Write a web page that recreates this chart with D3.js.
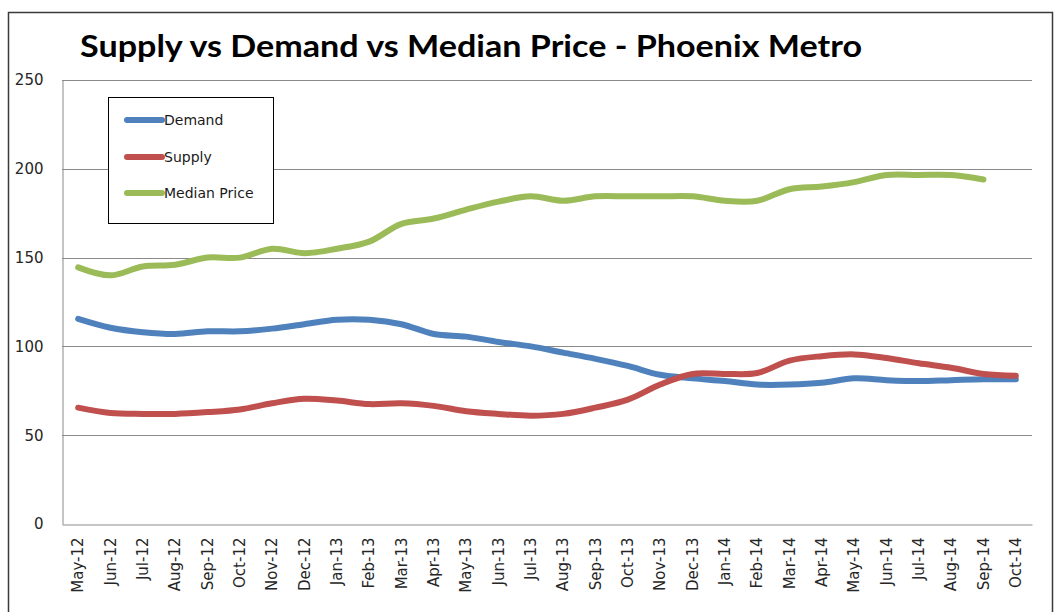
<!DOCTYPE html>
<html>
<head>
<meta charset="utf-8">
<script src="https://cdn.jsdelivr.net/npm/d3@7"></script>
<style>
  html, body { margin: 0; padding: 0; background: #fff; }
  svg { display: block; }
</style>
</head>
<body>
<svg id="chart" width="1063" height="612"></svg>
<script>
const months = ["May-12","Jun-12","Jul-12","Aug-12","Sep-12","Oct-12","Nov-12","Dec-12",
  "Jan-13","Feb-13","Mar-13","Apr-13","May-13","Jun-13","Jul-13","Aug-13","Sep-13","Oct-13","Nov-13","Dec-13",
  "Jan-14","Feb-14","Mar-14","Apr-14","May-14","Jun-14","Jul-14","Aug-14","Sep-14","Oct-14"];

const demand = [115.5,110.5,108,107,108.5,108.5,110,112.5,115,115,112.5,107,105.5,102.5,100,
  96.5,93,89,84,82,80.5,78.5,78.5,79.5,82,81,80.5,81,81.5,81.5];

const supply = [65.5,62.5,62,62,63,64.5,68,70.5,69.5,67.5,68,66.5,63.5,62,61,
  62,65.5,70,78.5,84.5,84.5,85,92,94.5,95.5,93.5,90.5,88,84.5,83.5];

const medianPrice = [144.5,140,145,146,150,150,155,152.5,155,159,169,172,177,181.5,184.5,
  182,184.5,184.5,184.5,184.5,182,182,188.5,190,192.5,196.5,196.5,196.5,194];

const yTicks = [0,50,100,150,200,250];

const seriesNames = ["Demand","Supply","Median Price"];
const seriesColors = ["#4F81BD","#C0504D","#9BBB59"];
const seriesData = [demand, supply, medianPrice];

const chartTitle = "Supply vs Demand vs Median Price - Phoenix Metro";

const svg = d3.select("#chart");
const plotL = 62, plotR = 1032, plotT = 80, plotB = 524;

// outer border
svg.append("rect")
  .attr("x", 8.5).attr("y", 12.5)
  .attr("width", 1044).attr("height", 620)
  .attr("fill", "#fff").attr("stroke", "#3a3a3a").attr("stroke-width", 1.5);

const x = d3.scaleBand().domain(months).range([plotL, plotR]);
const y = d3.scaleLinear().domain([0, 250]).range([plotB, plotT]);

// gridlines
svg.append("g")
  .selectAll("line").data(yTicks.filter(d => d > 0)).join("line")
  .attr("x1", plotL).attr("x2", plotR)
  .attr("y1", d => Math.round(y(d)) + 0.5).attr("y2", d => Math.round(y(d)) + 0.5)
  .attr("stroke", "#8a8a8a").attr("stroke-width", 1);

// y axis
const yAxis = svg.append("g")
  .attr("transform", `translate(${plotL + 0.5},0)`)
  .call(d3.axisLeft(y).tickValues(yTicks).tickSize(0).tickPadding(19));
yAxis.select(".domain").attr("stroke", "#8a8a8a");
yAxis.selectAll("text")
  .attr("font-family", "'DejaVu Sans', sans-serif")
  .attr("font-size", 15).attr("fill", "#262626");

// x axis
const xAxis = svg.append("g")
  .attr("transform", `translate(0,${plotB + 0.5})`)
  .call(d3.axisBottom(x).tickSize(0).tickPadding(0));
xAxis.select(".domain").attr("stroke", "#8a8a8a");
xAxis.selectAll("text")
  .attr("font-family", "'DejaVu Sans', sans-serif")
  .attr("font-size", 15).attr("fill", "#262626")
  .attr("text-anchor", "end")
  .attr("dy", null)
  .attr("transform", "translate(5,13) rotate(-90)");

// lines
const line = d3.line()
  .defined(d => d != null)
  .x((d, i) => x(months[i]) + x.bandwidth() / 2)
  .y(d => y(d))
  .curve(d3.curveCatmullRom.alpha(0.5));

svg.append("g").selectAll("path").data(seriesData).join("path")
  .attr("d", d => line(d))
  .attr("fill", "none")
  .attr("stroke", (d, i) => seriesColors[i])
  .attr("stroke-width", 6)
  .attr("stroke-linecap", "round")
  .attr("stroke-linejoin", "round");

// legend
const lg = svg.append("g");
lg.append("rect")
  .attr("x", 108.5).attr("y", 97.5).attr("width", 165).attr("height", 126)
  .attr("fill", "#fff").attr("stroke", "#000").attr("stroke-width", 1);
const legendY = [120, 157, 193];
seriesNames.forEach((name, i) => {
  lg.append("line")
    .attr("x1", 127).attr("x2", 162)
    .attr("y1", legendY[i]).attr("y2", legendY[i])
    .attr("stroke", seriesColors[i]).attr("stroke-width", 6)
    .attr("stroke-linecap", "round");
  lg.append("text")
    .attr("x", 164).attr("y", legendY[i] + 5)
    .attr("font-family", "'DejaVu Sans', sans-serif")
    .attr("font-size", 14).attr("fill", "#1a1a1a")
    .text(name);
});

// title
svg.append("text")
  .attr("x", 80).attr("y", 57)
  .attr("font-family", "Lato, 'Open Sans', sans-serif")
  .attr("font-weight", "bold")
  .attr("font-size", 30)
  .attr("fill", "#000")
  .attr("textLength", 782)
  .attr("lengthAdjust", "spacingAndGlyphs")
  .text(chartTitle);
</script>
</body>
</html>
